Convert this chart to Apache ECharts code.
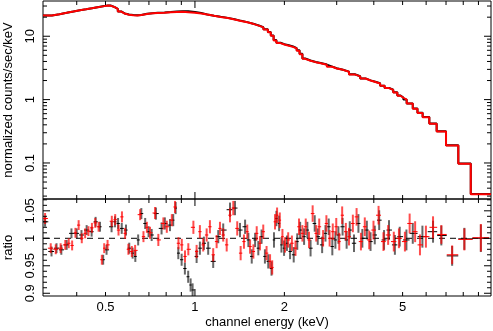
<!DOCTYPE html>
<html>
<head>
<meta charset="utf-8">
<script src="https://cdn.jsdelivr.net/npm/echarts@6/dist/echarts.min.js"></script>
<style>
html, body { margin: 0; padding: 0; background: #fff; }
#main { width: 493px; height: 331px; }
</style>
</head>
<body>
<div id="main"></div>
<script>
// axis ranges
var xMin = 0.308, xMax = 9.92;
var specMin = 0.027, specMax = 36;
var ratMin = 0.895, ratMax = 1.0715;

// tick labels and tick marks
var xLabels = [0.5, 1, 2, 5];
var xMajorTicks = [1];
var xMinorTicks = [0.4, 0.5, 0.6, 0.7, 0.8, 0.9, 2, 3, 4, 5, 6, 7, 8, 9];
var specLabels = [0.1, 1, 10];
var specMajorTicks = [0.1, 1, 10];
var specMinorTicks = [0.03, 0.04, 0.05, 0.06, 0.07, 0.08, 0.09, 0.2, 0.3, 0.4, 0.5, 0.6, 0.7, 0.8, 0.9,
                      2, 3, 4, 5, 6, 7, 8, 9, 20, 30];
var ratLabels = [0.9, 0.95, 1, 1.05];
var ratMajorTicks = [0.9, 0.95, 1, 1.05];
var ratMinorTicks = [0.91, 0.92, 0.93, 0.94, 0.96, 0.97, 0.98, 0.99, 1.01, 1.02, 1.03, 1.04, 1.06, 1.07];

// spectrum: bin low edges (last = upper edge of last bin), counts/sec/keV
var specE = [0.308, 0.33, 0.35, 0.37, 0.39, 0.41, 0.43, 0.45, 0.47, 0.49, 0.51, 0.52, 0.535, 0.55, 0.565,
  0.58, 0.60, 0.62, 0.64, 0.66, 0.69, 0.72, 0.75, 0.79, 0.83, 0.87, 0.91, 0.95, 1.0, 1.05, 1.10, 1.16,
  1.22, 1.29, 1.36, 1.43, 1.50, 1.57, 1.64, 1.70, 1.76, 1.80, 1.84, 1.88, 1.94, 2.00, 2.07, 2.14, 2.20,
  2.25, 2.30, 2.35, 2.45, 2.55, 2.65, 2.78, 2.90, 3.0, 3.15, 3.3, 3.45, 3.6, 3.75, 3.9, 4.05, 4.2, 4.35,
  4.5, 4.65, 4.8, 4.92, 5.03, 5.16, 5.41, 5.61, 5.84, 6.15, 6.51, 7.0, 7.70, 8.48, 9.92];
var specRed = [21.3, 22.3, 23.5, 24.6, 25.8, 26.6, 27.6, 28.6, 29.6, 30.6, 30.4, 29.0, 27.0, 24.5, 22.8,
  21.9, 21.5, 21.3, 21.6, 22.5, 23.0, 23.3, 23.5, 23.9, 24.2, 24.3, 24.0, 23.5, 22.9, 22.0, 21.0, 20.2,
  19.4, 18.4, 17.4, 16.6, 15.7, 14.7, 13.8, 12.8, 11.6, 10.2, 8.6, 7.8, 7.4, 7.1, 6.8, 6.4, 5.9,
  5.2, 4.4, 4.1, 3.9, 3.75, 3.55, 3.3, 3.1, 2.95, 2.75, 2.5, 2.33, 2.15, 2.0, 1.9, 1.8, 1.65, 1.52,
  1.42, 1.3, 1.15, 1.07, 1.0, 0.865, 0.72, 0.615, 0.525, 0.417, 0.315, 0.189, 0.097, 0.0322, 0.0322];
var specBlack = [21.2, 22.3, 23.4, 24.6, 25.7, 26.6, 27.6, 28.7, 29.7, 30.7, 30.5, 29.1, 27.1, 24.6, 22.9,
  22.0, 21.6, 21.4, 21.7, 22.6, 23.1, 23.4, 23.7, 24.1, 24.5, 24.8, 24.7, 24.1, 23.2, 22.1, 21.1, 20.3,
  19.5, 18.5, 17.5, 16.7, 15.8, 14.8, 13.9, 12.9, 11.7, 10.3, 8.7, 7.9, 7.5, 7.2, 6.9, 6.5, 6.0,
  5.3, 4.45, 4.15, 3.92, 3.78, 3.57, 3.32, 3.12, 2.96, 2.76, 2.51, 2.34, 2.16, 2.01, 1.91, 1.81, 1.66, 1.53,
  1.43, 1.31, 1.16, 1.08, 1.0, 0.87, 0.725, 0.62, 0.53, 0.42, 0.318, 0.19, 0.098, 0.0324, 0.0324];

// ratio points: [energy keV, ratio, error]
var ratioBlack = [
  [0.313, 1.030, 0.009], [0.329, 0.976, 0.009], [0.342, 0.982, 0.009], [0.355, 0.979, 0.009],
  [0.370, 0.988, 0.009], [0.384, 1.009, 0.009], [0.400, 1.009, 0.009], [0.415, 1.006, 0.009],
  [0.432, 1.015, 0.009], [0.449, 1.012, 0.009], [0.463, 1.030, 0.009], [0.479, 1.021, 0.009],
  [0.491, 0.961, 0.009], [0.504, 0.979, 0.009], [0.524, 1.021, 0.010], [0.538, 1.030, 0.010],
  [0.551, 1.027, 0.010], [0.567, 1.018, 0.010], [0.586, 1.015, 0.010], [0.601, 0.982, 0.010],
  [0.617, 0.973, 0.010], [0.630, 0.967, 0.010], [0.644, 0.997, 0.010], [0.660, 1.045, 0.010],
  [0.680, 1.027, 0.010], [0.698, 1.012, 0.010], [0.715, 1.006, 0.011], [0.739, 1.045, 0.011],
  [0.772, 1.018, 0.011], [0.792, 1.027, 0.011], [0.824, 1.024, 0.011], [0.845, 1.033, 0.011],
  [0.861, 1.055, 0.011], [0.879, 0.973, 0.011], [0.902, 0.961, 0.011], [0.925, 0.945, 0.011],
  [0.949, 0.930, 0.011], [0.967, 0.915, 0.012], [0.982, 0.906, 0.012], [1.013, 0.967, 0.012],
  [1.039, 0.982, 0.012], [1.072, 0.991, 0.012], [1.108, 0.982, 0.012], [1.152, 0.958, 0.012],
  [1.198, 1.003, 0.012], [1.245, 1.015, 0.012], [1.312, 1.052, 0.013], [1.364, 1.055, 0.013],
  [1.418, 1.015, 0.013], [1.475, 1.021, 0.013], [1.513, 0.997, 0.013], [1.553, 0.967, 0.013],
  [1.594, 0.997, 0.013], [1.634, 0.982, 0.013], [1.676, 1.003, 0.013], [1.720, 0.967, 0.013],
  [1.765, 0.958, 0.013], [1.810, 0.945, 0.013], [1.845, 0.997, 0.014], [1.880, 1.036, 0.014],
  [1.920, 1.027, 0.014], [1.955, 0.988, 0.014], [1.995, 0.982, 0.014], [2.040, 0.991, 0.014],
  [2.090, 0.976, 0.014], [2.150, 0.970, 0.014], [2.210, 0.994, 0.015], [2.260, 1.015, 0.015],
  [2.330, 1.003, 0.015], [2.390, 1.015, 0.015], [2.450, 0.982, 0.015], [2.530, 1.027, 0.015],
  [2.590, 1.003, 0.015], [2.680, 0.988, 0.015], [2.750, 1.009, 0.015], [2.820, 1.021, 0.015],
  [2.900, 0.985, 0.016], [2.970, 0.997, 0.016], [3.040, 1.006, 0.016], [3.140, 1.021, 0.016],
  [3.240, 0.997, 0.016], [3.320, 1.015, 0.016], [3.430, 0.991, 0.016], [3.550, 1.027, 0.017],
  [3.660, 1.000, 0.017], [3.790, 1.015, 0.017], [3.900, 0.994, 0.017], [4.030, 1.006, 0.017],
  [4.170, 1.033, 0.018], [4.330, 0.997, 0.018], [4.500, 1.015, 0.018], [4.710, 0.988, 0.018],
  [4.890, 1.003, 0.018], [5.150, 0.997, 0.019], [5.410, 1.009, 0.019], [5.830, 1.003, 0.020],
  [6.330, 1.012, 0.020], [6.750, 1.005, 0.018], [7.340, 0.968, 0.018], [8.070, 0.999, 0.020],
  [9.170, 1.000, 0.025]
];
var ratioRed = [
  [0.313, 1.036, 0.010], [0.327, 0.982, 0.009], [0.340, 0.980, 0.009], [0.353, 0.982, 0.009],
  [0.366, 0.988, 0.009], [0.376, 0.991, 0.009], [0.386, 0.987, 0.009], [0.396, 1.010, 0.009],
  [0.406, 1.024, 0.009], [0.416, 1.000, 0.009], [0.427, 1.009, 0.009], [0.438, 1.013, 0.009],
  [0.450, 1.019, 0.009], [0.462, 1.028, 0.009], [0.474, 1.021, 0.009], [0.486, 0.961, 0.009],
  [0.495, 0.982, 0.009], [0.508, 0.988, 0.009], [0.525, 1.031, 0.010], [0.539, 1.034, 0.010],
  [0.553, 1.015, 0.010], [0.568, 1.039, 0.010], [0.582, 1.009, 0.010], [0.597, 0.980, 0.010],
  [0.613, 0.976, 0.010], [0.629, 0.978, 0.010], [0.654, 1.043, 0.010], [0.671, 1.003, 0.010],
  [0.689, 1.020, 0.010], [0.706, 1.010, 0.011], [0.734, 1.046, 0.011], [0.753, 0.997, 0.011],
  [0.783, 1.027, 0.011], [0.804, 1.021, 0.011], [0.836, 1.033, 0.011], [0.857, 1.057, 0.011],
  [0.880, 0.991, 0.011], [0.903, 0.988, 0.011], [0.926, 0.967, 0.011], [0.950, 0.980, 0.011],
  [0.988, 1.020, 0.012], [1.013, 0.976, 0.012], [1.039, 1.012, 0.012], [1.066, 0.988, 0.012],
  [1.095, 1.006, 0.012], [1.123, 1.021, 0.012], [1.152, 0.970, 0.012], [1.183, 0.994, 0.012],
  [1.214, 1.018, 0.012], [1.245, 1.006, 0.012], [1.279, 0.988, 0.012], [1.312, 1.042, 0.013],
  [1.346, 1.055, 0.013], [1.388, 1.018, 0.013], [1.425, 0.973, 0.013], [1.462, 0.994, 0.013],
  [1.500, 1.012, 0.013], [1.533, 0.985, 0.013], [1.573, 0.976, 0.013], [1.614, 1.009, 0.013],
  [1.655, 0.991, 0.013], [1.698, 1.012, 0.013], [1.742, 0.973, 0.013], [1.790, 0.958, 0.013],
  [1.820, 0.947, 0.013], [1.860, 1.030, 0.014], [1.890, 1.042, 0.014], [1.930, 1.033, 0.014],
  [1.970, 1.003, 0.014], [2.010, 0.988, 0.014], [2.060, 0.997, 0.014], [2.120, 0.991, 0.014],
  [2.180, 0.982, 0.014], [2.240, 1.021, 0.015], [2.300, 1.009, 0.015], [2.360, 1.021, 0.015],
  [2.420, 0.997, 0.015], [2.490, 1.045, 0.015], [2.560, 1.009, 0.015], [2.620, 1.021, 0.015],
  [2.700, 1.000, 0.015], [2.770, 1.027, 0.015], [2.840, 1.000, 0.015], [2.910, 1.012, 0.015],
  [2.990, 1.021, 0.016], [3.060, 0.994, 0.016], [3.130, 1.042, 0.016], [3.220, 1.012, 0.016],
  [3.300, 1.003, 0.016], [3.400, 1.027, 0.016], [3.500, 1.039, 0.016], [3.620, 0.994, 0.016],
  [3.730, 1.021, 0.017], [3.860, 0.997, 0.017], [3.990, 1.015, 0.017], [4.150, 1.042, 0.017],
  [4.310, 0.994, 0.017], [4.470, 1.006, 0.018], [4.670, 0.994, 0.018], [4.860, 1.000, 0.018],
  [5.090, 0.994, 0.018], [5.280, 1.027, 0.018], [5.510, 1.012, 0.019], [5.720, 0.988, 0.019],
  [5.990, 1.003, 0.020], [6.330, 1.020, 0.020], [6.750, 1.007, 0.017], [7.340, 0.970, 0.017],
  [8.070, 0.998, 0.020], [9.170, 1.001, 0.025]
];

var FONT = 'Liberation Sans, Helvetica, Arial, sans-serif';
var myChart = echarts.init(document.getElementById('main'));

function fmt(v) { return String(+Number(v).toFixed(3)); }

function lineEl(x1, y1, x2, y2, color, w) {
    return { type: 'line', shape: { x1: x1, y1: y1, x2: x2, y2: y2 },
             style: { stroke: color, lineWidth: w } };
}

// inward ticks on all four sides of a panel
function tickSeries(idx, yr, yMaj, yMinr) {
    var data = [];
    xMajorTicks.forEach(function (v) { data.push([v, yr[0], 0, 1]); });
    xMinorTicks.forEach(function (v) { data.push([v, yr[0], 0, 0]); });
    yMaj.forEach(function (v) { data.push([xMin, v, 1, 1]); });
    yMinr.forEach(function (v) { data.push([xMin, v, 1, 0]); });
    return {
        type: 'custom', xAxisIndex: idx, yAxisIndex: idx, silent: true, z: 10,
        encode: { x: 0, y: 1 },
        data: data,
        renderItem: function (params, api) {
            var kind = api.value(2), len = api.value(3) ? 7 : 4;
            var a, b;
            if (kind === 0) {
                a = api.coord([api.value(0), yr[0]]);
                b = api.coord([api.value(0), yr[1]]);
                return { type: 'group', children: [
                    lineEl(a[0], a[1], a[0], a[1] - len, '#000', 1),
                    lineEl(b[0], b[1], b[0], b[1] + len, '#000', 1)
                ] };
            }
            a = api.coord([xMin, api.value(1)]);
            b = api.coord([xMax, api.value(1)]);
            return { type: 'group', children: [
                lineEl(a[0], a[1], a[0] + len, a[1], '#000', 1),
                lineEl(b[0], b[1], b[0] - len, b[1], '#000', 1)
            ] };
        }
    };
}

// crosses: bin width horizontally, error vertically
function errSeries(rows, hColor, vColor, z) {
    var data = rows.map(function (r, i) {
        var prev = i > 0 ? rows[i - 1][0] : r[0] * r[0] / rows[i + 1][0];
        var next = i < rows.length - 1 ? rows[i + 1][0] : r[0] * r[0] / rows[i - 1][0];
        return [r[0], r[1], Math.sqrt(prev * r[0]), Math.sqrt(next * r[0]), r[2]];
    });
    return {
        type: 'custom', xAxisIndex: 1, yAxisIndex: 1, silent: true, z: z, clip: true,
        encode: { x: 0, y: 1 },
        data: data,
        renderItem: function (params, api) {
            var e = api.value(0), r = api.value(1), err = api.value(4);
            var pl = api.coord([api.value(2), r]), pr = api.coord([api.value(3), r]);
            var pt = api.coord([e, r + err]), pb = api.coord([e, r - err]);
            return { type: 'group', children: [
                lineEl(pt[0], pt[1], pb[0], pb[1], vColor, 2),
                lineEl(pl[0], pl[1], pr[0], pr[1], hColor, 1)
            ] };
        }
    };
}

var labelStyle = { fontSize: 13, fontFamily: FONT, color: '#000' };

option = {
    animation: false,
    grid: [
        { left: 43, right: 2, top: 1, height: 198, show: true, borderColor: '#000', borderWidth: 1,
          outerBoundsMode: 'none', containLabel: false },
        { left: 43, right: 2, top: 199, height: 97, show: true, borderColor: '#000', borderWidth: 1,
          outerBoundsMode: 'none', containLabel: false }
    ],
    xAxis: [
        { gridIndex: 0, type: 'log', logBase: 10, min: xMin, max: xMax,
          axisLine: { show: false }, axisTick: { show: false }, axisLabel: { show: false },
          splitLine: { show: false } },
        { gridIndex: 1, type: 'log', logBase: 10, min: xMin, max: xMax,
          axisLine: { show: false }, axisTick: { show: false }, splitLine: { show: false },
          axisLabel: Object.assign({ customValues: xLabels, formatter: fmt, margin: 5 }, labelStyle),
          name: 'channel energy (keV)', nameLocation: 'middle', nameGap: 20,
          nameTextStyle: labelStyle }
    ],
    yAxis: [
        { gridIndex: 0, type: 'log', logBase: 10, min: specMin, max: specMax,
          axisLine: { show: false }, axisTick: { show: false }, splitLine: { show: false },
          axisLabel: Object.assign({ customValues: specLabels, formatter: fmt, rotate: 90, margin: 6 }, labelStyle),
          name: 'normalized counts/sec/keV', nameLocation: 'middle', nameGap: 28,
          nameTextStyle: labelStyle },
        { gridIndex: 1, type: 'value', min: ratMin, max: ratMax,
          axisLine: { show: false }, axisTick: { show: false }, splitLine: { show: false },
          axisLabel: Object.assign({ customValues: ratLabels, formatter: fmt, rotate: 90, margin: 6 }, labelStyle),
          name: 'ratio', nameLocation: 'middle', nameGap: 28,
          nameTextStyle: labelStyle }
    ],
    series: [
        { type: 'line', xAxisIndex: 0, yAxisIndex: 0, step: 'end', symbol: 'none', silent: true, z: 2,
          data: specE.map(function (e, i) { return [e, specBlack[i]]; }),
          lineStyle: { color: '#000', width: 2 } },
        { type: 'line', xAxisIndex: 0, yAxisIndex: 0, step: 'end', symbol: 'none', silent: true, z: 3,
          data: specE.map(function (e, i) { return [e, specRed[i]]; }),
          lineStyle: { color: '#ff0000', width: 2 } },
        { type: 'line', xAxisIndex: 1, yAxisIndex: 1, symbol: 'none', silent: true, z: 1,
          data: [[xMin, 1], [xMax, 1]],
          lineStyle: { color: '#000', width: 1, type: [6, 5] } },
        errSeries(ratioBlack, '#000', 'rgba(0,0,0,0.6)', 2),
        errSeries(ratioRed, '#ff0000', 'rgba(255,0,0,0.7)', 3),
        tickSeries(0, [specMin, specMax], specMajorTicks, specMinorTicks),
        tickSeries(1, [ratMin, ratMax], ratMajorTicks, ratMinorTicks)
    ]
};
myChart.setOption(option);
</script>
</body>
</html>
